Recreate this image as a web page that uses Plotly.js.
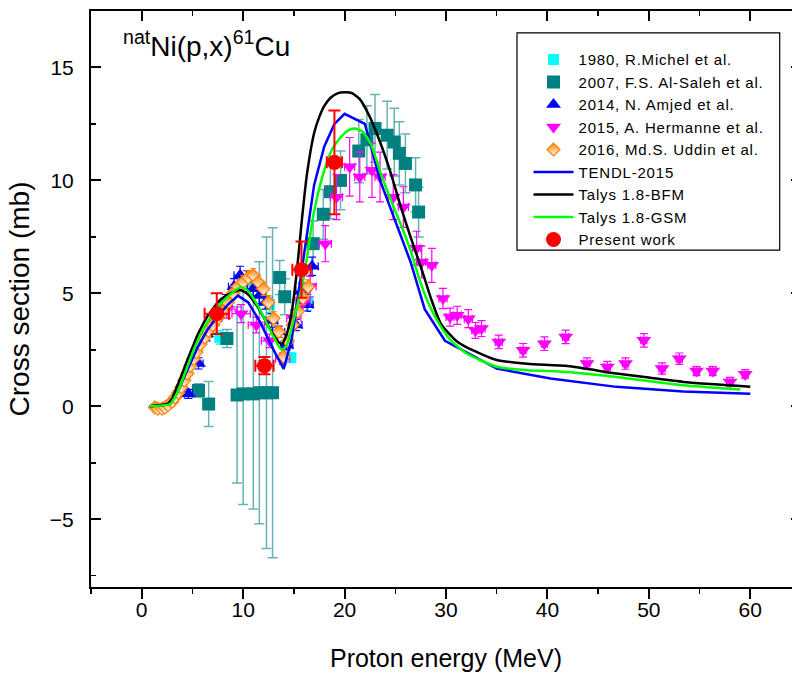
<!DOCTYPE html>
<html>
<head>
<meta charset="utf-8">
<script src="https://cdn.plot.ly/plotly-3.0.1.min.js"></script>
<style>
html,body{margin:0;padding:0;overflow:hidden;background:#fff;width:792px;height:676px;}
#chart{width:810px;height:676px;}
.legendtext{letter-spacing:0.8px;}
</style>
</head>
<body>
<div id="chart"></div>
<script>
// ---- Data ----
// 1980, R.Michel et al.
const michelE = [7.7, 11.0, 12.6, 14.7, 16.4];
const michelS = [3.05, 5.5, 4.5, 2.15, 4.6];
const michelErr = [0.3, 0.4, 0.35, 0.2, 0.35];

// 2007, F.S. Al-Saleh et al.
const salehE = [5.6, 6.6, 8.4, 9.4, 10.0, 11.0, 11.6, 12.3, 12.9, 13.6, 14.1, 16.9, 17.9, 18.6, 19.6, 21.4, 22.2, 23.0, 24.2, 24.9, 25.4, 26.0, 27.0, 27.3];
const salehS = [0.7, 0.1, 3.0, 0.5, 0.55, 0.55, 0.6, 0.6, 0.6, 5.7, 4.85, 7.2, 8.5, 9.5, 10.0, 11.3, 11.8, 12.3, 12.0, 11.7, 11.2, 10.75, 9.8, 8.6];
const salehErr = [0.3, 1.0, 0.4, 3.9, 4.9, 5.1, 5.8, 6.9, 7.3, 0.75, 0.8, 1.0, 1.1, 1.2, 1.3, 1.4, 1.5, 1.5, 1.5, 1.5, 1.4, 1.3, 1.2, 1.1];

// 2014, N. Amjed et al.
const amjedE = [4.6, 5.6, 6.4, 7.3, 8.3, 9.1, 9.7, 10.4, 11.0, 11.6, 12.2, 12.8, 13.5, 14.3, 15.2, 15.8, 16.3, 16.8];
const amjedS = [0.55, 1.9, 3.2, 3.9, 4.6, 5.3, 5.8, 5.6, 5.2, 4.9, 4.6, 3.8, 3.3, 2.7, 3.6, 5.1, 4.5, 6.2];
const amjedErr = [0.2, 0.25, 0.3, 0.3, 0.35, 0.35, 0.4, 0.4, 0.35, 0.35, 0.3, 0.3, 0.25, 0.2, 0.25, 0.35, 0.3, 0.4];
const amjedXErr = [0.4, 0.45, 0.5, 0.5, 0.55, 0.55, 0.6, 0.6, 0.6, 0.6, 0.6, 0.6, 0.6, 0.6, 0.6, 0.6, 0.6, 0.6];

// 2015, A. Hermanne et al.
const hermE = [8.4, 9.8, 11.3, 12.6, 13.9, 15.0, 15.9, 16.6, 18.1, 19.2, 20.5, 21.5, 22.7, 23.5, 24.8, 25.8, 27.1, 27.6, 28.6, 29.7, 30.4, 31.1, 32.2, 32.9, 33.5, 35.2, 37.6, 39.7, 41.8, 43.9, 45.9, 47.7, 49.5, 51.3, 53.0, 54.7, 56.3, 58.0, 59.5];
const hermS = [4.3, 4.1, 3.6, 2.9, 2.1, 3.9, 4.6, 5.3, 7.2, 9.26, 10.6, 10.15, 10.45, 10.15, 9.26, 8.82, 7.0, 6.39, 6.24, 4.77, 3.95, 4.03, 3.88, 3.36, 3.44, 2.85, 2.48, 2.77, 3.07, 1.89, 1.74, 1.89, 2.92, 1.67, 2.11, 1.56, 1.56, 1.08, 1.42];
const hermErr = [0.4, 0.4, 0.35, 0.3, 0.25, 0.35, 0.4, 0.45, 0.8, 1.0, 1.3, 1.1, 1.2, 1.1, 1.0, 0.9, 0.75, 0.7, 0.75, 0.45, 0.4, 0.4, 0.4, 0.35, 0.35, 0.3, 0.3, 0.3, 0.3, 0.25, 0.25, 0.25, 0.3, 0.25, 0.25, 0.2, 0.2, 0.2, 0.2];
const hermXErr = [1.0, 0.9, 0.8, 0.8, 0.7, 0.7, 0.7, 0.6, 0.6, 0.6, 0.5, 0.5, 0.5, 0.5, 0.5, 0.5, 0.4, 0.4, 0.4, 0.4, 0.4, 0.4, 0.4, 0.35, 0.35, 0.35, 0.3, 0.3, 0.3, 0.3, 0.3, 0.3, 0.3, 0.3, 0.3, 0.3, 0.3, 0.3, 0.3];

// 2016, Md.S. Uddin et al.
const uddinE = [1.3, 1.6, 2.0, 2.3, 2.6, 3.0, 3.3, 3.6, 3.9, 4.2, 4.5, 4.8, 5.1, 5.4, 5.8, 6.2, 6.6, 7.0, 7.5, 8.0, 8.5, 9.0, 9.5, 10.0, 10.5, 11.0, 11.5, 12.0, 12.5, 13.0, 13.5, 14.0, 14.4, 14.9, 15.4, 15.9, 16.4];
const uddinS = [-0.05, -0.1, -0.1, -0.05, 0.05, 0.2, 0.4, 0.6, 0.85, 1.15, 1.45, 1.8, 2.1, 2.4, 2.75, 3.05, 3.35, 3.6, 3.9, 4.2, 4.6, 5.0, 5.3, 5.5, 5.7, 5.8, 5.5, 5.2, 4.6, 3.9, 3.3, 2.2, 2.9, 3.6, 4.2, 4.8, 5.3];
const uddinErr = [0.15, 0.15, 0.15, 0.15, 0.15, 0.15, 0.15, 0.15, 0.2, 0.2, 0.2, 0.2, 0.2, 0.2, 0.25, 0.25, 0.25, 0.25, 0.3, 0.3, 0.3, 0.3, 0.3, 0.3, 0.3, 0.3, 0.3, 0.3, 0.3, 0.3, 0.25, 0.2, 0.25, 0.25, 0.3, 0.3, 0.3];
const uddinXErr = [0.2, 0.2, 0.2, 0.2, 0.2, 0.2, 0.2, 0.2, 0.2, 0.2, 0.2, 0.2, 0.2, 0.2, 0.2, 0.2, 0.2, 0.2, 0.25, 0.25, 0.25, 0.25, 0.25, 0.25, 0.25, 0.25, 0.25, 0.25, 0.3, 0.3, 0.3, 0.3, 0.3, 0.3, 0.3, 0.3, 0.3];

// TENDL-2015
const tendlE = [0.8, 2.8, 3.5, 4.5, 5.5, 6.5, 7.5, 8.5, 9.5, 10.5, 11.7, 13.0, 14.0, 14.8, 15.5, 16.3, 17.0, 18.0, 19.0, 20.0, 22.0, 23.5, 24.5, 25.5, 26.5, 27.9, 29.9, 35.0, 40.3, 46.8, 53.4, 60.0];
const tendlS = [0.0, 0.1, 0.6, 1.6, 2.6, 3.4, 4.0, 4.5, 4.9, 4.6, 3.7, 2.5, 1.65, 3.0, 5.2, 7.8, 9.8, 11.5, 12.5, 12.95, 12.5, 10.0, 8.8, 7.6, 6.4, 4.3, 2.9, 1.67, 1.23, 0.86, 0.66, 0.56];

// Talys 1.8-BFM
const bfmE = [0.8, 2.5, 3.0, 3.5, 4.0, 4.5, 5.0, 5.5, 6.0, 6.5, 7.0, 7.5, 8.0, 9.0, 9.7, 10.5, 11.5, 12.5, 13.2, 13.8, 14.3, 14.8, 15.3, 15.8, 16.3, 17.0, 17.5, 18.0, 18.6, 19.3, 20.0, 20.7, 21.5, 22.5, 23.5, 24.5, 25.5, 26.5, 27.5, 28.5, 29.5, 31.0, 32.0, 35.0, 38.0, 42.0, 46.8, 50.0, 53.4, 60.0];
const bfmS = [0.0, 0.1, 0.35, 0.9, 1.45, 2.05, 2.6, 3.15, 3.6, 4.0, 4.3, 4.6, 4.8, 5.05, 5.15, 4.95, 4.35, 3.55, 3.0, 2.75, 3.2, 4.2, 6.0, 8.3, 10.3, 12.1, 12.8, 13.3, 13.65, 13.85, 13.9, 13.87, 13.6, 12.8, 11.7, 10.4, 8.9, 7.5, 6.2, 4.8, 3.65, 2.9, 2.62, 2.05, 1.88, 1.78, 1.45, 1.27, 1.08, 0.87];

// Talys 1.8-GSM
const gsmE = [0.8, 2.8, 3.5, 4.0, 4.5, 5.0, 5.5, 6.0, 6.5, 7.0, 7.5, 8.0, 9.0, 9.8, 10.5, 11.7, 13.0, 13.8, 14.3, 14.8, 15.3, 15.8, 16.3, 16.9, 17.9, 18.8, 19.6, 20.3, 21.0, 21.8, 22.6, 23.5, 24.5, 25.5, 26.5, 27.4, 28.1, 29.0, 30.4, 32.0, 35.0, 38.0, 41.9, 46.8, 50.0, 53.4, 59.0];
const gsmS = [0.0, 0.1, 0.6, 1.15, 1.75, 2.35, 2.9, 3.35, 3.75, 4.1, 4.4, 4.65, 5.05, 5.28, 5.1, 4.25, 3.07, 2.5, 2.7, 3.5, 4.4, 5.3, 6.6, 8.4, 10.3, 11.4, 11.9, 12.2, 12.3, 12.15, 11.6, 10.4, 9.2, 8.1, 6.9, 5.6, 4.75, 3.9, 2.95, 2.35, 1.75, 1.6, 1.52, 1.3, 1.12, 0.93, 0.74];

// Present work
const presE = [7.4, 12.1, 15.75, 19.0];
const presS = [4.1, 1.8, 6.05, 10.8];
const presErr = [0.9, 0.38, 1.25, 2.3];
const presXErr = [1.2, 0.9, 0.9, 0.75];

const xTickVals = [0, 10, 20, 30, 40, 50, 60];
const yTickVals = [-5, 0, 5, 10, 15];

// ---- Traces ----
const traces = [
  {name:'1980, R.Michel et al.', x:michelE, y:michelS, type:'scatter', mode:'markers',
   marker:{symbol:'square', size:11, color:'#00FFFF'},
   error_y:{type:'data', array:michelErr, color:'#00FFFF', thickness:1.2, width:4}},
  {name:'2007, F.S. Al-Saleh et al.', x:salehE, y:salehS, type:'scatter', mode:'markers',
   marker:{symbol:'square', size:13, color:'#008080'},
   error_y:{type:'data', array:salehErr, color:'rgba(0,128,128,0.6)', thickness:1.5, width:5}},
  {name:'2014, N. Amjed et al.', x:amjedE, y:amjedS, type:'scatter', mode:'markers',
   marker:{symbol:'triangle-up', size:13, color:'#0000FF'},
   error_y:{type:'data', array:amjedErr, color:'#0000FF', thickness:1.2, width:4},
   error_x:{type:'data', array:amjedXErr, color:'#0000FF', thickness:1.2, width:4}},
  {name:'2015, A. Hermanne et al.', x:hermE, y:hermS, type:'scatter', mode:'markers',
   marker:{symbol:'triangle-down', size:13, color:'#FF00FF'},
   error_y:{type:'data', array:hermErr, color:'#FF00FF', thickness:1.2, width:4},
   error_x:{type:'data', array:hermXErr, color:'#FF00FF', thickness:1.2, width:4}},
  {name:'2016, Md.S. Uddin et al.', x:uddinE, y:uddinS, type:'scatter', mode:'markers',
   marker:{symbol:'diamond', size:10, color:'#FF8000', gradient:{type:'vertical', color:'#FFFFFF'}, line:{color:'#FF8000', width:1.2}},
   error_y:{type:'data', array:uddinErr, color:'#FF8000', thickness:1, width:3},
   error_x:{type:'data', array:uddinXErr, color:'#FF8000', thickness:1, width:3}},
  {name:'TENDL-2015', x:tendlE, y:tendlS, type:'scatter', mode:'lines',
   line:{color:'#0000FF', width:2.5}},
  {name:'Talys 1.8-BFM', x:bfmE, y:bfmS, type:'scatter', mode:'lines',
   line:{color:'#000000', width:2.5, shape:'spline', smoothing:0.6}},
  {name:'Talys 1.8-GSM', x:gsmE, y:gsmS, type:'scatter', mode:'lines',
   line:{color:'#00FF00', width:2.5, shape:'spline', smoothing:0.6}},
  {name:'Present work', x:presE, y:presS, type:'scatter', mode:'markers',
   marker:{symbol:'circle', size:15, color:'#FF0000'},
   error_y:{type:'data', array:presErr, color:'#FF0000', thickness:2, width:6},
   error_x:{type:'data', array:presXErr, color:'#FF0000', thickness:2, width:6}},
  {x:[null], y:[null], xaxis:'x2', showlegend:false, hoverinfo:'skip', type:'scatter', mode:'markers'}
];

const FONT = 'Liberation Sans, Arial, sans-serif';
const layout = {
  width: 810, height: 676,
  margin: {l:91, r:9, t:11, b:89},
  paper_bgcolor:'#fff', plot_bgcolor:'#fff',
  font:{family:FONT, color:'#000'},
  showlegend:true,
  xaxis:{
    range:[-5, 65], tickvals:xTickVals, ticks:'outside', ticklen:10, tickwidth:2, tickcolor:'#000',
    showline:true, linewidth:2, linecolor:'#000', showgrid:false, zeroline:false, mirror:false,
    tickfont:{size:21, family:FONT}, ticklabelstandoff:-7,
    minor:{dtick:5, tick0:0, ticks:'outside', ticklen:5, tickwidth:1.5, tickcolor:'#000', showgrid:false},
    title:{text:'Proton energy (MeV)', font:{size:25, family:FONT}, standoff:29}
  },
  xaxis2:{
    overlaying:'x', side:'top', range:[-5, 65], tickvals:xTickVals, ticks:'inside', ticklen:10, tickwidth:2,
    tickcolor:'#000', showline:true, linewidth:2, linecolor:'#000', showgrid:false, zeroline:false,
    showticklabels:false,
    minor:{dtick:5, tick0:0, ticks:'inside', ticklen:5, tickwidth:1.5, tickcolor:'#000', showgrid:false}
  },
  yaxis:{
    range:[-8, 17.5], tickvals:yTickVals, ticks:'inside', ticklen:10, tickwidth:2, tickcolor:'#000',
    showline:true, linewidth:2, linecolor:'#000', showgrid:false, zeroline:false, mirror:'ticks',
    tickfont:{size:21, family:FONT}, ticklabelstandoff:11,
    minor:{dtick:2.5, tick0:0, ticks:'inside', ticklen:5, tickwidth:1.5, tickcolor:'#000', showgrid:false},
    title:{text:'Cross section (mb)', font:{size:28, family:FONT}, standoff:12}
  },
  legend:{
    x:0.6162, y:0.944, xanchor:'left', yanchor:'top', bgcolor:'rgba(0,0,0,0)', borderwidth:0,
    font:{size:15, family:FONT}, itemwidth:40, tracegroupgap:0
  },
  shapes:[
    {type:'rect', xref:'paper', yref:'paper', x0:0.6, x1:0.97, y0:0.585, y1:0.962,
     line:{color:'#000', width:1.2}, fillcolor:'rgba(0,0,0,0)'}
  ],
  annotations:[
    {xref:'paper', yref:'paper', x:0.042, y:0.978, xanchor:'left', yanchor:'top', showarrow:false,
     text:'<sup>nat</sup>Ni(p,x)<sup>61</sup>Cu', font:{size:28, family:FONT, color:'#000'}}
  ]
};

Plotly.newPlot('chart', traces, layout, {displayModeBar:false, staticPlot:true});
</script>
</body>
</html>
